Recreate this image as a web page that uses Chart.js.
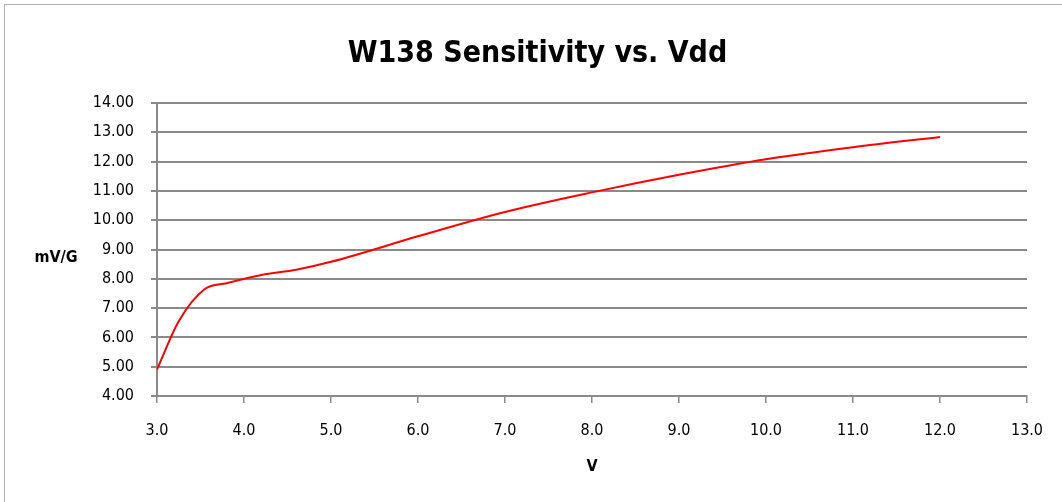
<!DOCTYPE html>
<html>
<head>
<meta charset="utf-8">
<script src="https://cdn.jsdelivr.net/npm/chart.js@4"></script>
<style>
    html, body { margin: 0; padding: 0; background: #fff; overflow: hidden; }
    #frame { position: absolute; left: 4px; top: 4px; width: 1200px; height: 700px; border: 1px solid #b4b4b4; }
    #wrap { position: absolute; left: 0; top: 0; width: 1062px; height: 502px; }
</style>
</head>
<body>
<div id="frame"></div>
<div id="wrap"><canvas id="chartSens"></canvas></div>
<script>
const tensao = [3.0, 3.25, 3.55, 3.8, 4.2, 4.6, 5.0, 6.0, 7.0, 8.0, 9.0, 10.0, 11.0, 12.0];
const sensibilidade = [4.90, 6.55, 7.65, 7.85, 8.13, 8.31, 8.58, 9.45, 10.28, 10.95, 11.55, 12.08, 12.49, 12.84];
const ticksX = [3, 4, 5, 6, 7, 8, 9, 10, 11, 12, 13];
const ticksY = [4, 5, 6, 7, 8, 9, 10, 11, 12, 13, 14];

const fonteBase = "'Liberation Sans Narrow', 'DejaVu Sans Condensed', 'Open Sans', sans-serif";
const corGrade = '#8a8a8a';

const tituloY = {
    id: 'tituloY',
    afterDraw(chart) {
        const { ctx, chartArea } = chart;
        ctx.save();
        ctx.font = 'bold 16px ' + fonteBase;
        ctx.fillStyle = '#000';
        ctx.textAlign = 'center';
        ctx.textBaseline = 'middle';
        ctx.fillText('mV/G', 56, (chartArea.top + chartArea.bottom) / 2 + 8);
        ctx.restore();
    }
};

const ctxSens = document.getElementById('chartSens').getContext('2d');

new Chart(ctxSens, {
    type: 'line',
    data: {
        datasets: [{
            label: 'Sensitivity',
            data: tensao.map((v, i) => ({ x: v, y: sensibilidade[i] })),
            borderColor: '#ff0000',
            borderWidth: 2,
            pointRadius: 0,
            cubicInterpolationMode: 'monotone',
            fill: false
        }]
    },
    options: {
        responsive: true,
        maintainAspectRatio: false,
        animation: false,
        layout: { padding: { left: 48, right: 35, top: 0, bottom: 0 } },
        plugins: {
            legend: { display: false },
            tooltip: { enabled: false },
            title: {
                display: true,
                text: 'W138 Sensitivity vs. Vdd',
                color: '#000',
                font: { family: fonteBase, size: 30, weight: 'bold' },
                padding: { top: 36, bottom: 31 }
            }
        },
        scales: {
            x: {
                type: 'linear',
                min: 3,
                max: 13,
                afterBuildTicks: (scale) => { scale.ticks = ticksX.map(v => ({ value: v })); },
                afterFit: (scale) => { scale.height = 106; },
                grid: { drawOnChartArea: false, drawTicks: true, tickLength: 7, color: corGrade, lineWidth: 1.5 },
                border: { display: true, color: corGrade, width: 2 },
                ticks: {
                    color: '#000',
                    padding: 18,
                    font: { family: fonteBase, size: 16 },
                    callback: (v) => Number(v).toFixed(1)
                },
                title: {
                    display: true,
                    text: 'V',
                    color: '#000',
                    font: { family: fonteBase, size: 16, weight: 'bold' },
                    padding: { top: 0, bottom: 26 }
                }
            },
            y: {
                min: 4,
                max: 14,
                afterBuildTicks: (scale) => { scale.ticks = ticksY.map(v => ({ value: v })); },
                afterFit: (scale) => { scale.width = 109; },
                grid: { color: corGrade, lineWidth: 2, tickLength: 6 },
                border: { display: true, color: corGrade, width: 2 },
                ticks: {
                    color: '#000',
                    padding: 17,
                    font: { family: fonteBase, size: 16 },
                    callback: (v) => Number(v).toFixed(2)
                }
            }
        }
    },
    plugins: [tituloY]
});
</script>
</body>
</html>
